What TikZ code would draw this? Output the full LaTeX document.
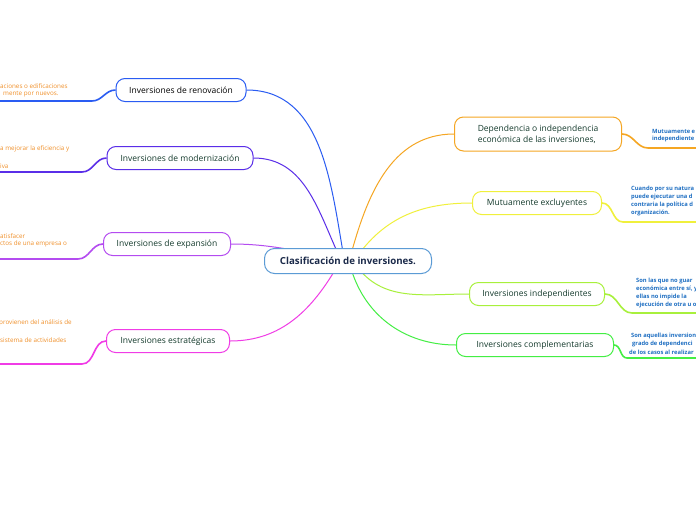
\documentclass[tikz,border=0pt]{standalone}
\usepackage{fontspec}
\setmainfont{Open Sans}
\definecolor{cRen}{HTML}{2A5CF2}
\definecolor{cMod}{HTML}{5A2EE8}
\definecolor{cExp}{HTML}{B44CF0}
\definecolor{cEst}{HTML}{F03CE6}
\definecolor{cDep}{HTML}{F5A623}
\definecolor{cMut}{HTML}{F0F03C}
\definecolor{cInd}{HTML}{A8F03C}
\definecolor{cCom}{HTML}{44EE44}
\definecolor{cCen}{HTML}{5B9BD5}
\definecolor{tGreen}{HTML}{143A2C}
\definecolor{tNavy}{HTML}{1B2A4A}
\definecolor{tOrange}{HTML}{F0902A}
\definecolor{tBlue}{HTML}{1F6FC2}
\tikzset{
  branch/.style={draw, rounded corners=9pt, line width=1pt, fill=white, minimum height=23pt,
    inner sep=2pt, text=tGreen, font=\fontsize{8.5}{11}\selectfont},
  conn/.style={line width=1pt},
  sub/.style={line width=1.6pt},
  ltext/.style={anchor=west, inner sep=0pt, text=tOrange, font=\fontsize{6.3}{7}\selectfont},
  rtext/.style={anchor=west, inner sep=0pt, text=tBlue, font=\fontsize{5.8}{7}\selectfont\bfseries},
}
\begin{document}
\begin{tikzpicture}[x=1pt,y=-1pt]
\clip (0,0) rectangle (696,520);
\fill[white] (0,0) rectangle (696,520);
% branch nodes
\node[branch, draw=cRen, minimum width=130pt, text=black] (ren) at (181,90) {Inversiones de renovación};
\node[branch, draw=cMod, minimum width=146pt] (mod) at (180,158) {Inversiones de modernización};
\node[branch, draw=cExp, minimum width=127pt] (exp) at (167,244) {Inversiones de expansión};
\node[branch, draw=cEst, minimum width=123pt] (est) at (168,341) {Inversiones estratégicas};
\node[branch, draw=cDep, minimum width=167pt, minimum height=34pt, align=left] (dep) at (538,134) {Dependencia o independencia\\económica de las inversiones,};
\node[branch, draw=cMut, minimum width=129pt] (mut) at (537,203) {Mutuamente excluyentes};
\node[branch, draw=cInd, minimum width=135pt] (ind) at (537,294) {Inversiones independientes};
\node[branch, draw=cCom, minimum width=157pt] (com) at (535,345) {Inversiones complementarias};
% hub points inside the central node
\coordinate (hA) at (344,258);
\coordinate (hB) at (340,258);
\coordinate (hC) at (330,256);
\coordinate (hD) at (338,265);
\coordinate (hE) at (350,258);
\coordinate (hF) at (356,258);
\coordinate (hG) at (356,265);
\coordinate (hH) at (350,265);
% main connectors
\draw[conn, cRen] (hA) to[out=100,in=0] (ren.east);
\draw[conn, cMod] (hB) to[out=115,in=0] (mod.east);
\draw[conn, cExp] (hC) to[out=172,in=0] (exp.east);
\draw[conn, cEst] (hD) to[out=240,in=0] (est.east);
\draw[conn, cDep] (hE) to[out=75,in=180] (dep.west);
\draw[conn, cMut] (hF) to[out=55,in=180] (mut.west);
\draw[conn, cInd] (hG) to[out=-55,in=180] (ind.west);
\draw[conn, cCom] (hH) to[out=-75,in=180] (com.west);
% central node
\node[draw=cCen, line width=1pt, rounded corners=10pt, fill=white, minimum width=167pt, minimum height=25pt,
  text=tNavy, font=\fontsize{9.7}{11}\selectfont\bfseries] (cen) at (348,261) {Clasificación de inversiones.};
% sub-branch lines left
\coordinate (renA) at (92,101); \coordinate (renB) at (0,101);
\coordinate (modA) at (82,172); \coordinate (modB) at (0,172);
\coordinate (expA) at (78,259); \coordinate (expB) at (0,259);
\coordinate (estA) at (82,364); \coordinate (estB) at (0,364);
\draw[sub, cRen] (ren.west) to[out=180,in=0] (renA) -- (renB);
\draw[sub, cMod] (mod.west) to[out=180,in=0] (modA) -- (modB);
\draw[sub, cExp] (exp.west) to[out=180,in=0] (expA) -- (expB);
\draw[sub, cEst] (est.west) to[out=180,in=0] (estA) -- (estB);
% sub-branch lines right
\coordinate (depA) at (648,148); \coordinate (depB) at (696,148);
\coordinate (mutA) at (623,222); \coordinate (mutB) at (696,222);
\coordinate (indA) at (632,313); \coordinate (indB) at (696,313);
\coordinate (comA) at (627,358); \coordinate (comB) at (696,358);
\draw[sub, cDep] (dep.east) to[out=0,in=180] (depA) -- (depB);
\draw[sub, cMut] (mut.east) to[out=0,in=180] (mutA) -- (mutB);
\draw[sub, cInd] (ind.east) to[out=0,in=180] (indA) -- (indB);
\draw[sub, cCom] (com.east) to[out=0,in=180] (comA) -- (comB);
% left texts
\node[ltext] (r1) at (0,86) {aciones o edificaciones};
\node[ltext] (r2) at (3,94) {mente por nuevos.};
\node[ltext] (m1) at (0,149) {a mejorar la eficiencia y};
\node[ltext] (m2) at (0,166) {iva};
\node[ltext] (e1) at (0,236) {atisfacer};
\node[ltext] (e2) at (0,244) {ctos de una empresa o};
\node[ltext] (s1) at (-1,323) {provienen del análisis de};
\node[ltext] (s2) at (0,340) {sistema de actividades};
% right texts
\node[rtext] (d1) at (652,131) {Mutuamente e};
\node[rtext] (d2) at (652,139) {independiente};
\node[rtext] (u1) at (631,189) {Cuando por su natura};
\node[rtext] (u2) at (631,197) {puede ejecutar una d};
\node[rtext] (u3) at (631,205) {contraria la política d};
\node[rtext] (u4) at (631,213) {organización.};
\node[rtext] (i1) at (636,281) {Son las que no guar};
\node[rtext] (i2) at (636,289) {económica entre sí, y};
\node[rtext] (i3) at (636,297) {ellas no impide la};
\node[rtext] (i4) at (636,305) {ejecución de otra u o};
\node[rtext] (k1) at (631,336) {Son aquellas inversion};
\node[rtext] (k2) at (632,344) {grado de dependenci};
\node[rtext] (k3) at (629,352) {de los casos al realizar};
\end{tikzpicture}
\end{document}
